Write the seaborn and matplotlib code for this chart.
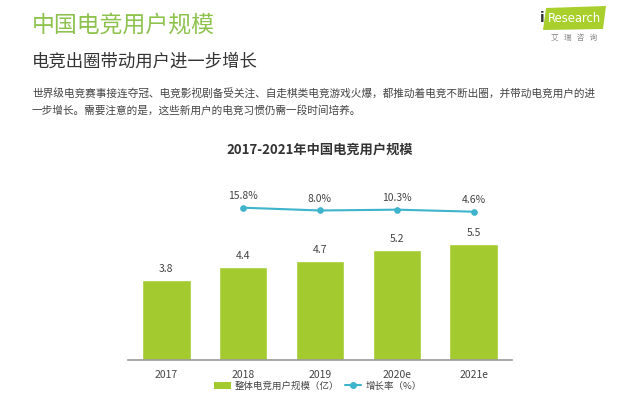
import matplotlib
matplotlib.use("Agg")
import matplotlib.pyplot as plt
from matplotlib.patches import Polygon, Patch
from matplotlib.lines import Line2D
import seaborn as sns
import pandas as pd

# data
years = ["2017", "2018", "2019", "2020e", "2021e"]
users = [3.8, 4.4, 4.7, 5.2, 5.5]            # 亿
growth_years = ["2018", "2019", "2020e", "2021e"]
growth = [15.8, 8.0, 10.3, 4.6]              # %

BAR_GREEN = "#A3CB2F"
LINE_BLUE = "#3DB3CC"
TITLE_GREEN = "#8EC24E"

sns.set_theme(style="white")
plt.rcParams["font.family"] = ["Noto Sans CJK SC", "DejaVu Sans"]

W, H = 640, 394
fig = plt.figure(figsize=(W / 100, H / 100), dpi=100)
fig.patch.set_facecolor("white")


def px(x, y):
    return x / W, 1 - y / H


# header texts
fig.text(*px(32, 25), "中国电竞用户规模", fontsize=16.5, color=TITLE_GREEN, va="center")
fig.text(*px(32, 62), "电竞出圈带动用户进一步增长", fontsize=12.5, color="#333333", va="center")
fig.text(*px(32, 94),
         "世界级电竞赛事接连夺冠、电竞影视剧备受关注、自走棋类电竞游戏火爆，都推动着电竞不断出圈，并带动电竞用户的进",
         fontsize=7.7, color="#444444", va="center")
fig.text(*px(32, 110), "一步增长。需要注意的是，这些新用户的电竞习惯仍需一段时间培养。",
         fontsize=7.7, color="#444444", va="center")

# logo
logo = Polygon([px(546, 8), px(606, 6), px(603, 29), px(543, 30)], closed=True,
               transform=fig.transFigure, facecolor="#A9CF2C", edgecolor="none")
fig.patches.append(logo)
fig.text(*px(542, 18), "i", fontsize=10, color="#333333", ha="center", va="center",
         family="DejaVu Sans", fontweight="bold")
fig.text(*px(548, 18), "Research", fontsize=8.3, color="white", ha="left", va="center",
         family="DejaVu Sans")
fig.text(*px(574, 38), "艾   瑞   咨   询", fontsize=5.5, color="#888888", ha="center", va="center")

# chart title
fig.text(*px(320, 150), "2017-2021年中国电竞用户规模", fontsize=9.5, fontweight="bold",
         color="#333333", ha="center", va="center")

# axes box
left, right, top, bottom = 128, 512, 190, 360
ax = fig.add_axes([left / W, 1 - bottom / H, (right - left) / W, (bottom - top) / H])
df = pd.DataFrame({"year": years, "users": users})
sns.barplot(data=df, x="year", y="users", color=BAR_GREEN, width=0.63,
            saturation=1, ax=ax)
ax.set_xlim(-0.5, 4.5)
ax.set_ylim(0, (bottom - top) / 21.1)
for i, v in enumerate(users):
    ax.annotate(f"{v:.1f}", (i, v), xytext=(0, 4.5), textcoords="offset points",
                ha="center", va="bottom", fontsize=7.5, color="#444444")

ax.set_xlabel("")
ax.set_ylabel("")
ax.set_yticks([])
ax.tick_params(axis="x", length=0, labelsize=7.5, labelcolor="#444444", pad=7)
for s in ["top", "right", "left"]:
    ax.spines[s].set_visible(False)
ax.spines["bottom"].set_color("#999999")
ax.spines["bottom"].set_linewidth(1.2)

# growth line on a twin axis
ax2 = ax.twinx()
gx = [years.index(y) for y in growth_years]
sns.lineplot(x=gx, y=growth, color=LINE_BLUE, marker="o", markersize=4,
             markeredgecolor=LINE_BLUE, linewidth=1.5, ax=ax2)
scale = 0.357  # px per percent point
ax2.set_ylim(15.8 - (bottom - 207.7) / scale, 15.8 + (207.7 - top) / scale)
ax2.set_xlim(-0.5, 4.5)
for x, v in zip(gx, growth):
    ax2.annotate(f"{v:.1f}%", (x, v), xytext=(0, 4.5), textcoords="offset points",
                 ha="center", va="bottom", fontsize=7.5, color="#444444")
ax2.set_yticks([])
for s in ax2.spines.values():
    s.set_visible(False)

# legend along the bottom edge
handles = [Patch(facecolor=BAR_GREEN, edgecolor="none"),
           Line2D([], [], color=LINE_BLUE, marker="o", markersize=4, linewidth=1.5)]
fig.legend(handles, ["整体电竞用户规模（亿）", "增长率（%）"], loc="center",
           bbox_to_anchor=(318 / W, 1 - 386 / H), ncol=2, frameon=False, fontsize=6.8,
           handlelength=1.7, columnspacing=0.7, labelcolor="#444444",
           borderpad=0, handletextpad=0.4)

fig.savefig("out.png", dpi=100)
